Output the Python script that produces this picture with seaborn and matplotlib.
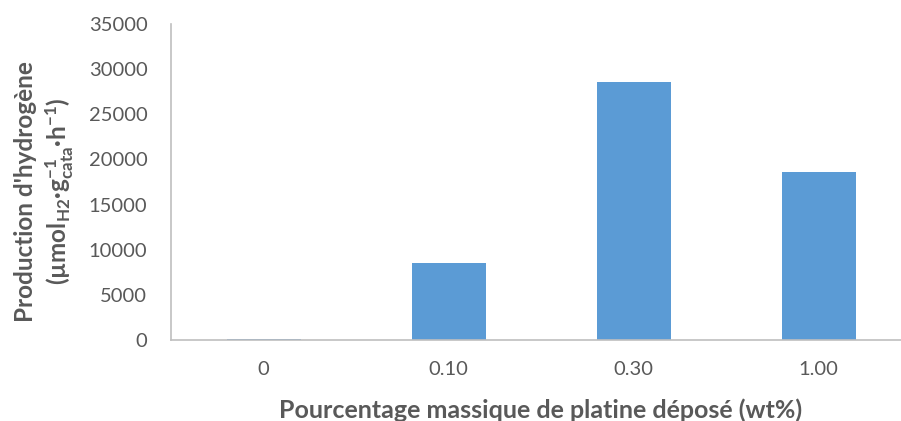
import matplotlib
matplotlib.use("Agg")
import matplotlib.pyplot as plt
import seaborn as sns
import pandas as pd

# Hydrogen production as a function of the platinum loading
loadings = ["0", "0.10", "0.30", "1.00"]
production = [150, 8500, 28600, 18600]
y_ticks = [0, 5000, 10000, 15000, 20000, 25000, 30000, 35000]

sns.set_theme(style="white")
plt.rcParams["font.family"] = ["Lato", "DejaVu Sans"]
plt.rcParams["mathtext.fontset"] = "custom"
plt.rcParams["mathtext.rm"] = "Lato:bold"
plt.rcParams["mathtext.default"] = "rm"

text_color = "#595959"
axis_color = "#BFBFBF"

df = pd.DataFrame({"loading": loadings, "production": production})

fig = plt.figure(figsize=(9.01, 4.21), dpi=100)
ax = fig.add_axes([171 / 901, (421 - 340) / 421, 740 / 901, 316 / 421])

sns.barplot(data=df, x="loading", y="production", color="#5B9BD5",
            width=0.4, saturation=1, edgecolor="none", ax=ax)

ax.set_xlim(-0.5, 3.5)
ax.set_ylim(0, 35000)
ax.set_yticks(y_ticks)
ax.set_yticklabels([str(v) for v in y_ticks])

for side in ("top", "right"):
    ax.spines[side].set_visible(False)
for side in ("left", "bottom"):
    ax.spines[side].set_color(axis_color)
    ax.spines[side].set_linewidth(1.2)

ax.tick_params(axis="both", length=0, labelsize=14.5, colors=text_color)
ax.tick_params(axis="y", pad=17)
ax.tick_params(axis="x", pad=15)

ax.set_xlabel("Pourcentage massique de platine déposé (wt%)",
              fontsize=18, fontweight="bold", color=text_color, labelpad=15)
ax.set_ylabel("Production d'hydrogène\n"
              r"(µmol$_{H2}$·g$^{-1}_{cata}$·h$^{-1}$)",
              fontsize=17.5, fontweight="bold", color=text_color,
              linespacing=1.3)
ax.yaxis.set_label_coords(-0.128, 0.47)

fig.savefig("out.png", dpi=100, facecolor="white")
